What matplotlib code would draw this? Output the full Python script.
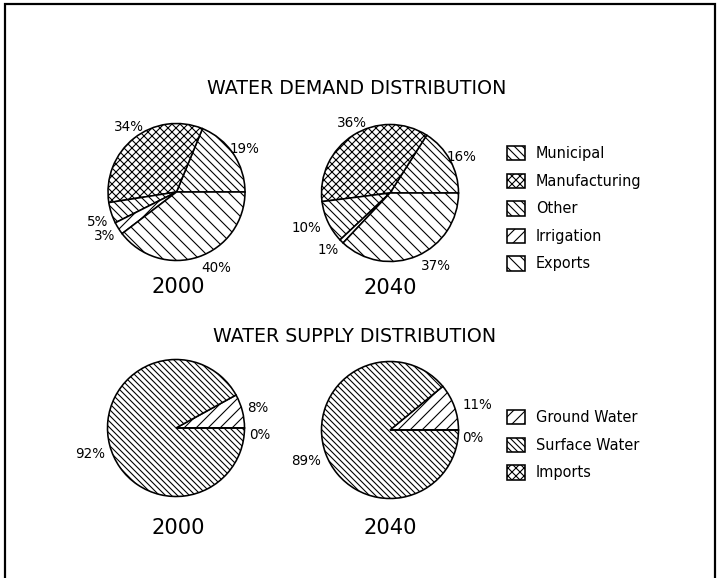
import matplotlib
matplotlib.use("Agg")
import matplotlib.pyplot as plt
from matplotlib.patches import Rectangle

# ---- data ----
demand_categories = ["Municipal", "Manufacturing", "Other", "Irrigation", "Exports"]
demand_2000 = [19, 34, 5, 3, 40]
demand_2040 = [16, 36, 10, 1, 37]
supply_categories = ["Ground Water", "Surface Water", "Imports"]
supply_2000 = [8, 92, 0]
supply_2040 = [11, 89, 0]
years = ["2000", "2040"]
demand_title = "WATER DEMAND DISTRIBUTION"
supply_title = "WATER SUPPLY DISTRIBUTION"

# ---- styling ----
demand_hatches = ["\\\\\\", "xxx", "\\\\\\", "//", "\\\\"]
supply_hatches = ["//", "\\\\\\\\", "xxx"]

# small label nudges in pixels (dx right, dy down), layout only
label_nudges = {
    ("d0", 0): (-4, 5), ("d0", 1): (6, 3), ("d0", 2): (4, 3), ("d0", 3): (2, -2), ("d0", 4): (12, -6),
    ("d1", 0): (-5, 6), ("d1", 1): (9, 3), ("d1", 2): (-5, -2), ("d1", 3): (0, -5), ("d1", 4): (11, -7),
    ("s0", 0): (-3, 2), ("s0", 2): (-3, 7), ("s0", 1): (-2, 4),
    ("s1", 0): (6, 4), ("s1", 2): (-4, 8), ("s1", 1): (-2, 2),
}

plt.rcParams["hatch.linewidth"] = 1.1
plt.rcParams["font.family"] = ["DejaVu Sans"]

W, H = 719, 578
DPI = 72
fig = plt.figure(figsize=(W / DPI, H / DPI), dpi=DPI)
ax = fig.add_axes([0, 0, 1, 1])
ax.set_xlim(0, W)
ax.set_ylim(0, H)
ax.set_aspect("equal")
ax.axis("off")

# border
ax.add_patch(Rectangle((4.5, -10), 710.5, H - 3.5 + 10, fill=False,
                       edgecolor="black", linewidth=2.2))


def draw_pie(key, values, hatches, center, radius):
    labels = [f"{v}%" for v in values]
    wedges, texts = ax.pie(values, labels=labels, startangle=0, counterclock=True,
                           center=center, radius=radius, labeldistance=1.27,
                           colors=["white"] * len(values),
                           wedgeprops=dict(edgecolor="black", linewidth=1.6),
                           textprops=dict(fontsize=13.5))
    for w, h in zip(wedges, hatches):
        w.set_hatch(h)
    for i, t in enumerate(texts):
        t.set_ha("center")
        t.set_va("center")
        dx, dy = label_nudges.get((key, i), (0, 0))
        x, y = t.get_position()
        t.set_position((x + dx, y - dy))
    return wedges


R = 68.5
dw = draw_pie("d0", demand_2000, demand_hatches, (176.5, H - 192), R)
draw_pie("d1", demand_2040, demand_hatches, (390, H - 193), R)
sw = draw_pie("s0", supply_2000, supply_hatches, (176, H - 428), R)
draw_pie("s1", supply_2040, supply_hatches, (390, H - 430), R)
ax.set_xlim(0, W)
ax.set_ylim(0, H)

ax.text(357, H - 89, demand_title, ha="center", va="center", fontsize=19)
ax.text(355, H - 336, supply_title, ha="center", va="center", fontsize=19)

ax.text(178, H - 287, years[0], ha="center", va="center", fontsize=21)
ax.text(390, H - 288, years[1], ha="center", va="center", fontsize=21)
ax.text(178, H - 528, years[0], ha="center", va="center", fontsize=21)
ax.text(390, H - 528, years[1], ha="center", va="center", fontsize=21)

leg_kw = dict(loc="upper left", frameon=False, fontsize=14.5, handlelength=1.25,
              handleheight=1.15, handletextpad=0.75, labelspacing=0.86,
              borderpad=0, borderaxespad=0, bbox_transform=ax.transData)
leg1 = ax.legend(dw, demand_categories, bbox_to_anchor=(507, H - 146), **leg_kw)
ax.add_artist(leg1)
ax.legend(sw, supply_categories, bbox_to_anchor=(507, H - 410), **leg_kw)

fig.savefig("out.png", dpi=DPI)
